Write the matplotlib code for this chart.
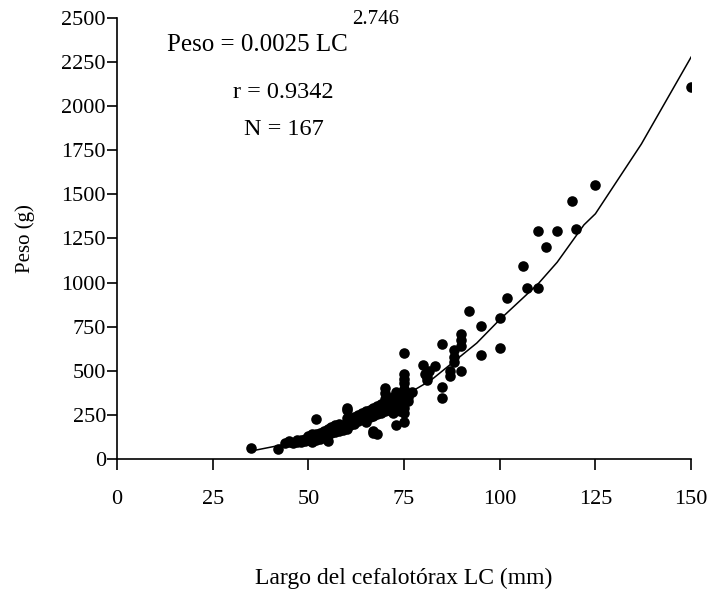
import matplotlib
matplotlib.use("Agg")
import matplotlib.pyplot as plt

plt.rcParams['font.family'] = ['Liberation Serif', 'DejaVu Serif']

# datos (LC en mm, peso en g)
largo = [35, 42, 45, 45, 46, 47, 48, 48, 49, 50, 50, 50, 51, 51,
         52, 52, 52, 52, 53, 53, 53, 54, 54, 54, 55, 55, 55, 55,
         56, 56, 56, 57, 57, 57, 58, 58, 58, 59, 59,
         60, 60, 60, 60, 60, 60, 61, 61, 62, 62, 62, 63, 63, 63,
         64, 64, 64, 65, 65, 65, 65, 66, 66, 66, 67, 67, 67, 67, 67,
         68, 68, 68, 68, 69, 69, 69,
         70, 70, 70, 70, 70, 70, 71, 71, 71, 72, 72, 72, 72,
         73, 73, 73, 73, 73, 74, 74, 74, 74,
         75, 75, 75, 75, 75, 75, 75, 75, 75, 75,
         80, 80.5, 81, 81, 81.5, 83, 85, 85, 85, 87, 87, 88, 88, 88,
         90, 90, 90, 90, 92, 95, 95, 100, 100, 102, 106, 107, 110, 110,
         112, 115, 119, 120, 125, 150,
         44, 47, 49, 51, 53, 55, 57, 59, 61, 62, 63, 64, 65, 66, 67,
         68, 69, 70, 71, 72, 73, 74, 75, 76, 76, 77]
peso = [65, 55, 95, 100, 90, 105, 95, 110, 100, 115, 105, 130, 120, 95,
        225, 140, 125, 110, 150, 130, 115, 160, 140, 125, 150, 170, 135, 100,
        165, 150, 180, 170, 155, 190, 175, 160, 200, 180, 165,
        200, 185, 230, 170, 290, 275, 210, 195, 220, 200, 240, 230, 215, 250,
        240, 225, 260, 250, 235, 270, 210, 255, 240, 280, 265, 245, 290, 160, 150,
        270, 255, 300, 140, 285, 260, 310,
        290, 270, 320, 340, 375, 400, 300, 280, 330, 310, 290, 350, 260,
        330, 300, 360, 380, 190, 340, 310, 290, 270,
        600, 480, 455, 430, 395, 340, 290, 260, 320, 210,
        535, 480, 465, 445, 500, 525, 650, 410, 345, 500, 470, 615, 580, 550,
        710, 675, 640, 500, 840, 755, 590, 800, 630, 915, 1095, 970, 970, 1295,
        1200, 1295, 1465, 1305, 1555, 2110,
        90, 95, 115, 140, 140, 160, 180, 195, 225, 210, 240, 250, 260, 270, 275,
        285, 295, 305, 315, 330, 345, 360, 370, 330, 350, 380]

# curva ajustada
ajuste_lc = [35, 42, 50, 60, 70, 76, 82, 94, 100, 110, 115, 122, 125, 137, 150]
ajuste_peso = [45, 75, 115, 190, 290, 370, 446, 657, 790, 992, 1115, 1327, 1390, 1785, 2278]

fig = plt.figure(figsize=(7.11, 5.92), dpi=100)
ax = fig.add_axes([0.1646, 0.2247, 0.8074, 0.745])

ax.scatter(largo, peso, s=58, color="black", zorder=3, linewidths=0)
ax.plot(ajuste_lc, ajuste_peso, color="black", linewidth=1.1, zorder=2)

ax.set_xlim(0, 150)
ax.set_ylim(0, 2500)
ax.set_xticks(range(0, 151, 25))
ax.set_yticks(range(0, 2501, 250))
ax.spines['top'].set_visible(False)
ax.spines['right'].set_visible(False)
ax.spines['left'].set_linewidth(1.2)
ax.spines['bottom'].set_linewidth(1.2)
ax.tick_params(axis='x', direction='out', length=8, width=1.2, labelsize=16, pad=14)
ax.tick_params(axis='y', direction='out', length=7, width=1.2, labelsize=16, pad=1)

ax.set_xlabel("Largo del cefalotórax LC (mm)", fontsize=17, labelpad=43)
ax.set_ylabel("Peso (g)", fontsize=15, labelpad=19)

# ecuacion con exponente como texto aparte
ax.text(60.4, 2347, "Peso = 0.0025 LC", fontsize=18, ha="right", va="center")
ax.text(61.3, 2490, "2.746", fontsize=15, ha="left", va="center")
ax.text(43.5, 2080, "r = 0.9342", fontsize=17.5, ha="center", va="center")
ax.text(43.5, 1870, "N = 167", fontsize=17.5, ha="center", va="center")

plt.savefig("out.png", dpi=100)
